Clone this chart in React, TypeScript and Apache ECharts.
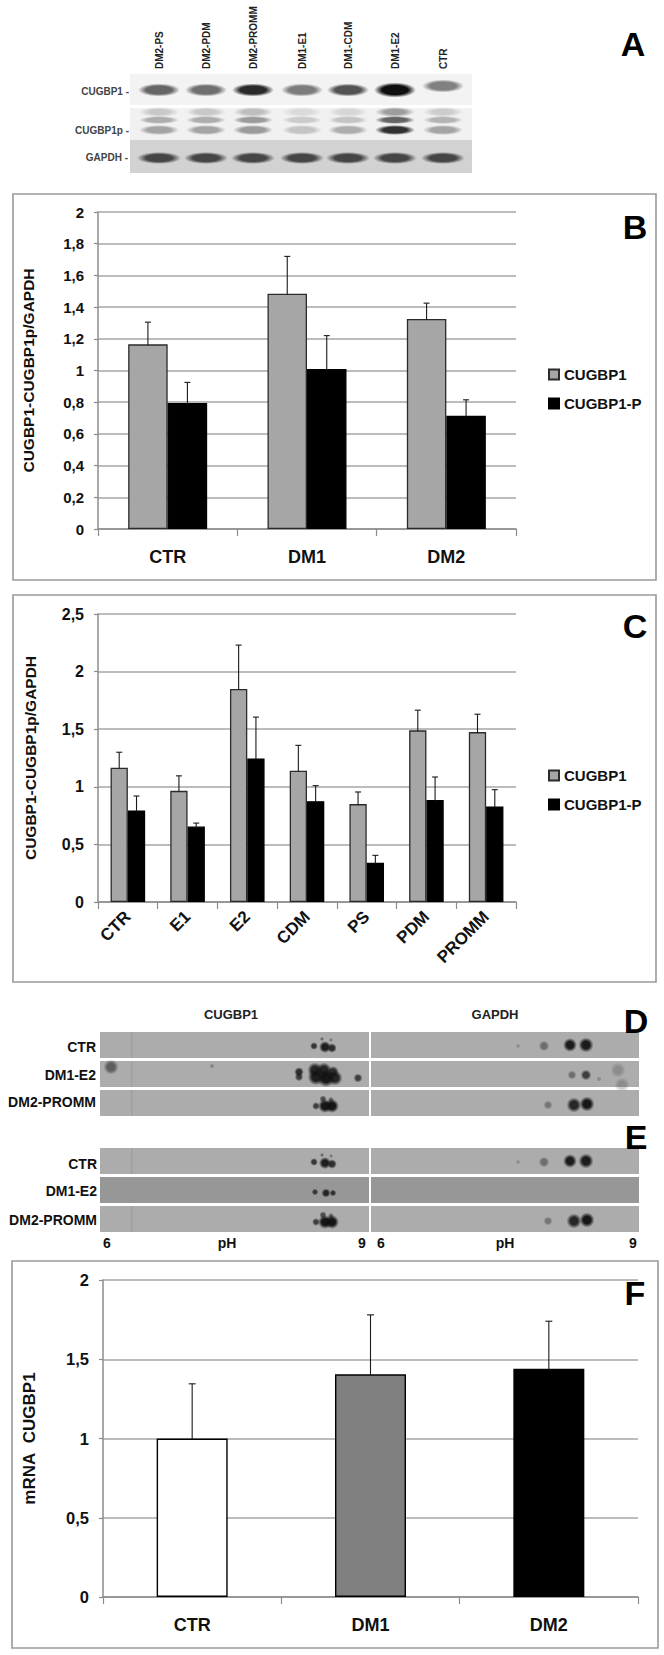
import React, { useEffect, useRef } from "react";
import * as echarts from "echarts";

// ---- panel B ----
const catsB = ["CTR", "DM1", "DM2"];
const grayB = [1.165, 1.485, 1.325];
const blackB = [0.795, 1.01, 0.715];
const grayTopB = [1.305, 1.72, 1.425];
const blackTopB = [0.925, 1.22, 0.815];
// ---- panel C ----
const catsC = ["CTR", "E1", "E2", "CDM", "PS", "PDM", "PROMM"];
const grayC = [1.165, 0.965, 1.85, 1.14, 0.85, 1.49, 1.475];
const blackC = [0.795, 0.655, 1.245, 0.875, 0.34, 0.885, 0.83];
const grayTopC = [1.3, 1.095, 2.23, 1.36, 0.955, 1.665, 1.63];
const blackTopC = [0.92, 0.685, 1.605, 1.01, 0.405, 1.085, 0.975];
// ---- panel F ----
const catsF = ["CTR", "DM1", "DM2"];
const valuesF = [1.0, 1.405, 1.44];
const topsF = [1.345, 1.78, 1.74];
const colorsF = ["#ffffff", "#808080", "#000000"];
// ---- panel A / D / E texts ----
const lanesA = ["DM2-PS", "DM2-PDM", "DM2-PROMM", "DM1-E1", "DM1-CDM", "DM1-E2", "CTR"];
const rowsA = ["CUGBP1 -", "CUGBP1p -", "GAPDH -"];
const rowsD = ["CTR", "DM1-E2", "DM2-PROMM"];
const seriesNames = ["CUGBP1", "CUGBP1-P"];

const FONT = '"Liberation Sans", Arial, sans-serif';
const AXIS = "#8c8c8c";
const GRID = "#a6a6a6";

const comma = (v: number) => String(v).replace(".", ",");

function errorSeries(xi: number, vals: number[], tops: number[], dx: number, cap: number) {
  return {
    type: "custom",
    name: "err",
    xAxisIndex: xi,
    yAxisIndex: xi,
    z: 5,
    silent: true,
    encode: { x: 0, y: 1 },
    data: vals.map((v, i) => [i, tops[i], v]),
    renderItem: (_: any, api: any) => {
      const t = api.coord([api.value(0), api.value(1)]);
      const b = api.coord([api.value(0), api.value(2)]);
      const x = t[0] + dx;
      const st = { stroke: "#1a1a1a", lineWidth: 1.1 };
      return {
        type: "group",
        children: [
          { type: "line", shape: { x1: x, y1: t[1], x2: x, y2: b[1] + 1 }, style: st },
          { type: "line", shape: { x1: x - cap, y1: t[1], x2: x + cap, y2: t[1] }, style: st },
        ],
      };
    },
  };
}

function grid(left: number, top: number, width: number, height: number) {
  return { left, top, width, height, containLabel: false, outerBoundsMode: "none" };
}

function xAx(gridIndex: number, data: string[], size: number, margin: number, rotate = 0) {
  return {
    type: "category",
    gridIndex,
    data,
    axisLine: { show: true, lineStyle: { color: AXIS, width: 1.5 } },
    axisTick: { show: true, length: 7, alignWithLabel: false, lineStyle: { color: AXIS, width: 1.2 } },
    axisLabel: {
      interval: 0,
      rotate,
      margin,
      color: "#111",
      fontFamily: FONT,
      fontWeight: "bold",
      fontSize: size,
    },
  };
}

function yAx(gridIndex: number, max: number, interval: number, name: string, size: number, nameSize: number, nameGap: number, margin: number) {
  return {
    type: "value",
    gridIndex,
    min: 0,
    max,
    interval,
    name,
    nameLocation: "middle",
    nameGap,
    nameTextStyle: { fontFamily: FONT, fontWeight: "bold", fontSize: nameSize, color: "#111" },
    axisLine: { show: true, lineStyle: { color: AXIS, width: 1.5 } },
    axisTick: { show: true, length: 4, lineStyle: { color: AXIS, width: 1.2 } },
    splitLine: { show: true, lineStyle: { color: GRID, width: 1.5 } },
    axisLabel: {
      margin,
      color: "#111",
      fontFamily: FONT,
      fontWeight: "bold",
      fontSize: size,
      formatter: comma,
    },
  };
}

function barSeries(name: string, xi: number, data: any[], width: number, color: string) {
  return {
    type: "bar",
    name,
    xAxisIndex: xi,
    yAxisIndex: xi,
    data,
    barWidth: width,
    barGap: 0,
    itemStyle: { color, borderColor: color === "#000000" ? "#000" : "#2b2b2b", borderWidth: 1.3 },
  };
}

function legend(top: number) {
  return {
    data: seriesNames,
    orient: "vertical",
    left: 543,
    top,
    itemWidth: 10,
    itemHeight: 10,
    itemGap: 14,
    selectedMode: false,
    icon: "rect",
    textStyle: { fontFamily: FONT, fontWeight: "bold", fontSize: 15, color: "#111" },
  };
}

// ---------- soft blot helpers ----------
function soft(cx: number, cy: number, rx: number, ry: number, alpha: number, flat = 0.5, rgb = "15,15,15") {
  return {
    type: "rect",
    silent: true,
    shape: { x: cx - rx, y: cy - ry, width: rx * 2, height: ry * 2 },
    style: {
      fill: {
        type: "radial",
        x: 0.5,
        y: 0.5,
        r: 0.5,
        colorStops: [
          { offset: 0, color: `rgba(${rgb},${alpha})` },
          { offset: flat, color: `rgba(${rgb},${alpha})` },
          { offset: 1, color: `rgba(${rgb},0)` },
        ],
      },
    },
  };
}
const rect = (x: number, y: number, width: number, height: number, fill: string) => ({
  type: "rect",
  silent: true,
  shape: { x, y, width, height },
  style: { fill },
});
const label = (
  text: string,
  x: number,
  y: number,
  fontSize: number,
  align = "center",
  fill = "#222",
  rotation = 0,
) => ({
  type: "text",
  silent: true,
  x,
  y,
  rotation,
  style: {
    text,
    fontFamily: FONT,
    fontWeight: "bold",
    fontSize,
    fill,
    textAlign: align,
    textVerticalAlign: "middle",
  },
});
const frame = (x: number, y: number, width: number, height: number) => ({
  type: "rect",
  silent: true,
  z: -1,
  shape: { x, y, width, height },
  style: { fill: "none", stroke: "#9a9a9a", lineWidth: 1.6 },
});

const laneX = [159, 206, 253, 302, 348, 395, 443];
const bandTop = [0.62, 0.58, 0.88, 0.52, 0.7, 1, 0.5];
const bandMid = [0.3, 0.3, 0.38, 0.17, 0.2, 0.62, 0.27];
const bandGap = [0.34, 0.34, 0.38, 0.2, 0.3, 0.85, 0.34];

function panelA(): any[] {
  const out: any[] = [];
  out.push(rect(130, 74, 342, 31, "#f3f3f3"));
  out.push(rect(130, 108, 342, 32, "#f1f1f1"));
  out.push(rect(130, 140, 342, 33, "#d2d2d2"));
  laneX.forEach((x, i) => {
    out.push(label(lanesA[i], x, 69, 10, "left", "#222", Math.PI / 2));
    out.push(soft(x, i === 6 ? 86 : 90, 21, i === 5 ? 7.5 : 6.5, bandTop[i], 0.62));
    out.push(soft(x, 112, 20, 5, bandMid[i] * 0.6, 0.5));
    out.push(soft(x, 120, 20, 4, bandMid[i], 0.6));
    out.push(soft(x, 130, 20, 5, bandGap[i], 0.6));
    out.push(soft(x, 158, 22, 6, 0.72, 0.6));
  });
  out.push(label(rowsA[0], 129, 91, 10, "right", "#444"));
  out.push(label(rowsA[1], 129, 130, 10, "right", "#444"));
  out.push(label(rowsA[2], 128, 157, 10, "right", "#444"));
  return out;
}

// spots given relative to the blot strips (x from the page, y from the strip top)
const spotsCtrL = [[314, 14, 2.6, 0.75], [325, 15, 4, 0.9], [332, 16, 3.2, 0.8], [322, 7, 1.4, 0.4], [331, 8, 1.4, 0.3]];
const spotsE2L = [[299, 11, 3.2, 0.8], [299, 16, 2.8, 0.7], [315, 9, 5, 0.85], [316, 16, 5.5, 0.9], [324, 9, 5, 0.85], [326, 17, 6, 0.95], [333, 11, 4, 0.8], [335, 17, 5, 0.85], [358, 17, 3, 0.7], [111, 6, 5, 0.5], [212, 5, 1.6, 0.25]];
const spotsPrL = [[316, 16, 2.6, 0.7], [325, 16, 4.6, 0.95], [332, 16, 4.6, 0.95], [323, 9, 2.4, 0.6], [331, 10, 2, 0.5]];
const spotsCtrR = [[518, 2 + 12, 1.5, 0.2], [544, 14, 3.5, 0.4], [570, 13, 4.6, 0.92], [586, 13, 5, 0.92]];
const spotsE2R = [[572, 14, 3, 0.4], [586, 14, 3.6, 0.7], [599, 18, 1.8, 0.2], [618, 9, 5, 0.2], [622, 24, 5, 0.2]];
const spotsPrR = [[548, 15, 3, 0.35], [574, 15, 5, 0.85], [587, 14, 5, 0.95]];
const spotsE2E = [[315, 15, 2.2, 0.7], [326, 16, 3, 0.85], [333, 16, 2.2, 0.75]];

function strip(y: number, bg: string, left: any[][], right: any[][], streaks = true): any[] {
  const out: any[] = [rect(100, y, 269, 26, bg), rect(371, y, 268, 26, bg)];
  if (streaks) {
    out.push(rect(131, y, 1.2, 26, "rgba(60,60,60,0.12)"));
  }
  left.forEach((s) => out.push(soft(s[0], y + s[1], s[2] * 1.5, s[2] * 1.5, s[3], 0.5)));
  right.forEach((s) => out.push(soft(s[0], y + s[1], s[2] * 1.5, s[2] * 1.5, s[3], 0.5)));
  return out;
}

function panelsDE(): any[] {
  const bg = "#acacac";
  const out: any[] = [];
  out.push(...strip(1032, bg, spotsCtrL, spotsCtrR));
  out.push(...strip(1061, bg, spotsE2L, spotsE2R));
  out.push(...strip(1090, bg, spotsPrL, spotsPrR));
  out.push(...strip(1148, bg, spotsCtrL, spotsCtrR));
  out.push(...strip(1177, "#979797", spotsE2E, [], false));
  out.push(...strip(1206, bg, spotsPrL, spotsPrR));
  out.push(label(seriesNames[0], 231, 1014, 13));
  out.push(label("GAPDH", 495, 1014, 13));
  [1047, 1075, 1102].forEach((y, i) => out.push(label(rowsD[i], 96, y, 14, "right", "#111")));
  [1164, 1191, 1220].forEach((y, i) => out.push(label(rowsD[i], 97, y, 14, "right", "#111")));
  out.push(label("6", 107, 1243, 14, "center", "#111"));
  out.push(label("pH", 227, 1243, 14, "center", "#111"));
  out.push(label("9", 362, 1243, 14, "center", "#111"));
  out.push(label("6", 381, 1243, 14, "center", "#111"));
  out.push(label("pH", 505, 1243, 14, "center", "#111"));
  out.push(label("9", 633, 1243, 14, "center", "#111"));
  return out;
}

const letters: [string, number, number][] = [
  ["A", 633, 44],
  ["B", 635, 227],
  ["C", 635, 626],
  ["D", 636, 1021],
  ["E", 636, 1137],
  ["F", 635, 1293],
];

export default function App() {
  const ref = useRef<HTMLDivElement>(null);
  useEffect(() => {
    if (!ref.current) return;
    const chart = echarts.init(ref.current, undefined, { renderer: "svg" });
    const wB = 39.5;
    const wC = 17.3;
    chart.setOption({
      animation: false,
      backgroundColor: "#ffffff",
      legend: [legend(362), legend(763)],
      grid: [grid(98, 212, 418, 317), grid(98, 614, 418, 288), grid(103, 1280, 535, 317)],
      xAxis: [xAx(0, catsB, 18, 19), xAx(1, catsC, 17, 12, 45), xAx(2, catsF, 18, 19)],
      yAxis: [
        yAx(0, 2, 0.2, "CUGBP1-CUGBP1p/GAPDH", 15, 15.5, 62, 14),
        yAx(1, 2.5, 0.5, "CUGBP1-CUGBP1p/GAPDH", 16, 15.5, 60, 14),
        yAx(2, 2, 0.5, "mRNA\u00a0\u00a0CUGBP1", 16.5, 17, 65, 14),
      ],
      series: [
        barSeries(seriesNames[0], 0, grayB, wB, "#a6a6a6"),
        barSeries(seriesNames[1], 0, blackB, wB, "#000000"),
        errorSeries(0, grayB, grayTopB, -wB / 2, 3),
        errorSeries(0, blackB, blackTopB, wB / 2, 3),
        barSeries(seriesNames[0], 1, grayC, wC, "#a6a6a6"),
        barSeries(seriesNames[1], 1, blackC, wC, "#000000"),
        errorSeries(1, grayC, grayTopC, -wC / 2, 3),
        errorSeries(1, blackC, blackTopC, wC / 2, 3),
        {
          ...barSeries("mRNA", 2, valuesF.map((v, i) => ({ value: v, itemStyle: { color: colorsF[i] } })), 71, "#808080"),
          itemStyle: { borderColor: "#000", borderWidth: 1.4 },
        },
        errorSeries(2, valuesF, topsF, 0, 3.5),
      ],
      graphic: {
        elements: [
          frame(13, 194, 643, 386),
          frame(13, 595, 643, 387),
          frame(12, 1261, 646, 387),
          ...panelA(),
          ...panelsDE(),
          ...letters.map(([t, x, y]) => label(t, x, y, 34, "center", "#000")),
        ],
      },
    });
    return () => chart.dispose();
  }, []);
  return <div ref={ref} style={{ position: "absolute", left: 0, top: 0, width: 664, height: 1655 }} />;
}
